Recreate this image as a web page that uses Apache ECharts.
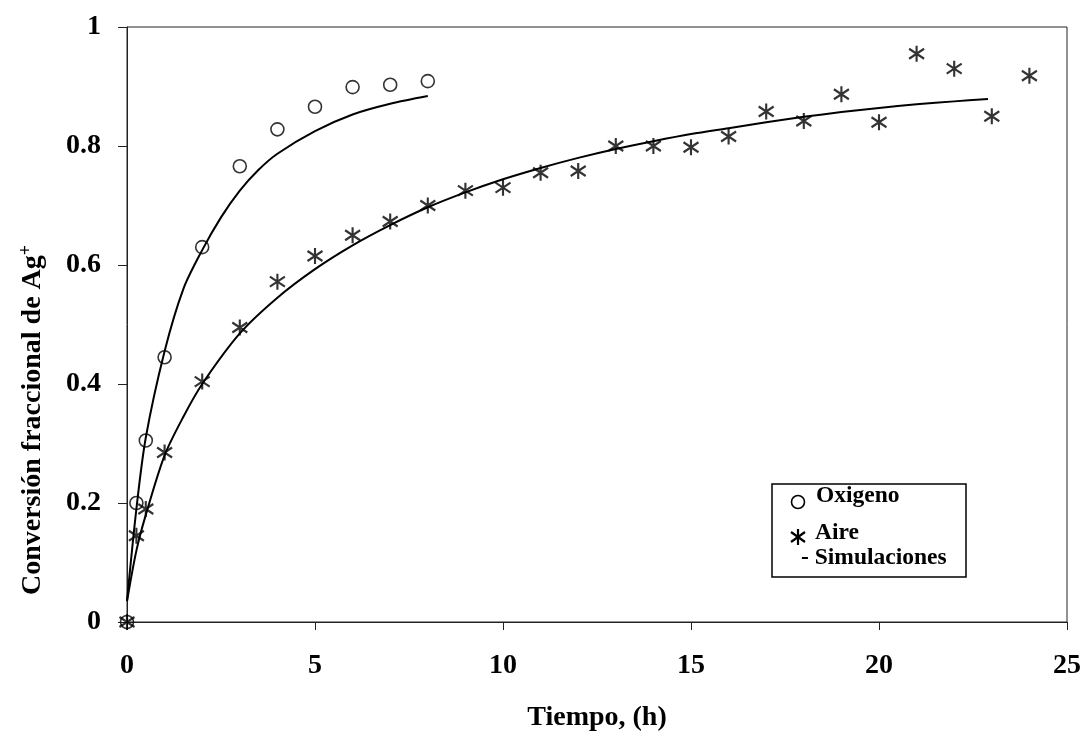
<!DOCTYPE html>
<html>
<head>
<meta charset="utf-8">
<script src="https://cdn.jsdelivr.net/npm/echarts@6/dist/echarts.min.js"></script>
<style>
  html, body { margin: 0; padding: 0; background: #fff; }
  #chart { width: 1087px; height: 737px; }
</style>
</head>
<body>
<div id="chart"></div>
<script>
// Measured conversion of Ag+ versus time (h)
const oxigenoT = [0, 0.25, 0.5, 1, 2, 3, 4, 5, 6, 7, 8];
const oxigenoX = [0, 0.20, 0.305, 0.445, 0.63, 0.766, 0.828, 0.866, 0.899, 0.903, 0.909];

const aireT = [0, 0.25, 0.5, 1, 2, 3, 4, 5, 6, 7, 8, 9, 10, 11, 12, 13, 14, 15, 16, 17, 18, 19, 20, 21, 22, 23, 24];
const aireX = [0, 0.145, 0.19, 0.285, 0.404, 0.495, 0.572, 0.615, 0.65, 0.673, 0.70, 0.725, 0.73, 0.755, 0.758, 0.80, 0.80, 0.798, 0.816, 0.858, 0.842, 0.887, 0.84, 0.955, 0.93, 0.85, 0.918];

// Model curves (simulations)
const simOxT = [0, 0.25, 0.5, 1, 1.5, 2, 2.5, 3, 3.5, 4, 5, 6, 7, 8];
const simOxX = [0.035, 0.19, 0.31, 0.455, 0.56, 0.625, 0.68, 0.725, 0.76, 0.787, 0.825, 0.853, 0.871, 0.884];

const simAireT = [0, 0.25, 0.5, 1, 1.5, 2, 3, 4, 5, 6, 7, 8, 9, 10, 11, 12, 13, 14, 15, 16, 17, 18, 19, 20, 21, 22, 22.9];
const simAireX = [0.035, 0.12, 0.18, 0.28, 0.345, 0.40, 0.485, 0.545, 0.593, 0.633, 0.667, 0.697, 0.722, 0.744, 0.763, 0.78, 0.795, 0.808, 0.82, 0.83, 0.84, 0.849, 0.857, 0.864, 0.87, 0.875, 0.879];

const xTicks = [0, 5, 10, 15, 20, 25];
const yTicks = [0, 0.2, 0.4, 0.6, 0.8, 1];

const pairs = (xs, ys) => xs.map((x, i) => [x, ys[i]]);

const FONT = '"Liberation Serif", "Times New Roman", serif';
const ASTERISK = 'M8,0L8,16M1,3L15,13M1,13L15,3';

const chart = echarts.init(document.getElementById('chart'), null, { renderer: 'canvas' });

const labelStyle = { fontFamily: FONT, fontWeight: 'bold', fontSize: 28, color: '#000' };
const legendText = { fontFamily: FONT, fontWeight: 'bold', fontSize: 23.5, fill: '#000', verticalAlign: 'middle' };

// asterisk legend glyph built from three strokes centred on (cx, cy)
function asteriskGlyph(cx, cy) {
  const st = { stroke: '#000', lineWidth: 2.2 };
  return [
    { type: 'line', shape: { x1: cx, y1: cy - 8, x2: cx, y2: cy + 8 }, style: st },
    { type: 'line', shape: { x1: cx - 7, y1: cy - 5, x2: cx + 7, y2: cy + 5 }, style: st },
    { type: 'line', shape: { x1: cx - 7, y1: cy + 5, x2: cx + 7, y2: cy - 5 }, style: st }
  ];
}

chart.setOption({
  backgroundColor: '#fff',
  animation: false,
  grid: { left: 127, right: 20, top: 27, bottom: 115, show: true, borderColor: '#222', borderWidth: 1 },
  xAxis: {
    type: 'value',
    min: xTicks[0], max: xTicks[xTicks.length - 1], interval: xTicks[1] - xTicks[0],
    axisLine: { show: true, lineStyle: { color: '#222', width: 1 } },
    axisTick: { show: true, inside: false, length: 8, lineStyle: { color: '#222' } },
    splitLine: { show: false },
    axisLabel: Object.assign({ margin: 30 }, labelStyle),
    name: 'Tiempo, (h)',
    nameLocation: 'middle',
    nameGap: 82,
    nameTextStyle: labelStyle
  },
  yAxis: {
    type: 'value',
    min: yTicks[0], max: yTicks[yTicks.length - 1], interval: yTicks[1] - yTicks[0],
    axisLine: { show: true, lineStyle: { color: '#222', width: 1 } },
    axisTick: { show: true, inside: false, length: 9, lineStyle: { color: '#222' } },
    splitLine: { show: false },
    axisLabel: Object.assign({ margin: 26, formatter: v => String(parseFloat(v.toFixed(1))) }, labelStyle)
  },
  series: [
    {
      name: 'Simulación oxígeno', type: 'line', data: pairs(simOxT, simOxX),
      smooth: 0.3, showSymbol: false, lineStyle: { color: '#000', width: 2 }, z: 2
    },
    {
      name: 'Simulación aire', type: 'line', data: pairs(simAireT, simAireX),
      smooth: 0.3, showSymbol: false, lineStyle: { color: '#000', width: 2 }, z: 2
    },
    {
      name: 'Oxigeno', type: 'scatter', data: pairs(oxigenoT, oxigenoX),
      symbol: 'circle', symbolSize: 13,
      itemStyle: { color: 'rgba(0,0,0,0)', borderColor: '#000', borderWidth: 1.6 }, z: 3
    },
    {
      name: 'Aire', type: 'scatter', data: pairs(aireT, aireX),
      symbol: 'path://' + ASTERISK, symbolSize: [15, 16],
      itemStyle: { color: 'rgba(0,0,0,0)', borderColor: '#000', borderWidth: 2.2 }, z: 3
    }
  ],
  graphic: [
    {
      type: 'text', x: 33, y: 420, rotation: Math.PI / 2,
      style: {
        text: 'Conversión fraccional de Ag{sup|+}',
        fontFamily: FONT, fontWeight: 'bold', fontSize: 28, fill: '#000',
        align: 'center', verticalAlign: 'middle',
        rich: { sup: { fontFamily: FONT, fontWeight: 'bold', fontSize: 18, fill: '#000', verticalAlign: 'top', padding: [0, 0, 14, 0] } }
      }
    },
    {
      type: 'group', x: 772, y: 484,
      children: [
        { type: 'rect', shape: { x: 0, y: 0, width: 194, height: 93 }, style: { fill: '#fff', stroke: '#000', lineWidth: 1.5 } },
        { type: 'circle', shape: { cx: 26, cy: 18, r: 6.5 }, style: { fill: 'none', stroke: '#000', lineWidth: 1.6 } },
        { type: 'text', x: 44, y: 12, style: Object.assign({ text: 'Oxigeno' }, legendText) },
        ...asteriskGlyph(26, 53),
        { type: 'text', x: 43, y: 49, style: Object.assign({ text: 'Aire' }, legendText) },
        { type: 'text', x: 29, y: 74, style: Object.assign({ text: '- Simulaciones' }, legendText) }
      ]
    }
  ]
});
</script>
</body>
</html>
